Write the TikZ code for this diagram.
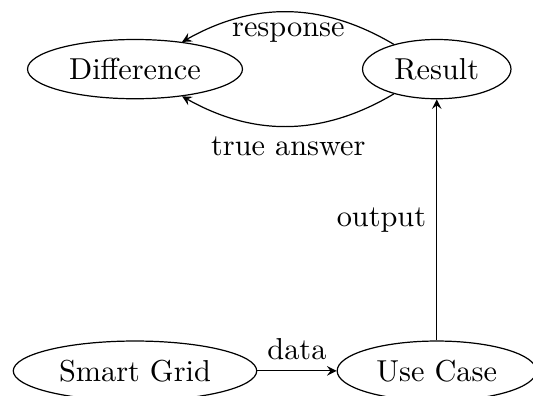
\documentclass[tikz,border=0pt]{standalone}
\usetikzlibrary{shapes.geometric}
\begin{document}
\begin{tikzpicture}[
  box/.style={draw, ellipse},
  conn/.style={-stealth}
]
\useasboundingbox (-44.55pt,-8.25pt) rectangle (131.35pt,122.4pt);
\node[box] (sg) at (0,0) {Smart Grid};
\node[box] (uc) at (3.5,0) {Use Case};
\node[box] (diff) at (0,3.5) {Difference};
\node[box] (res) at (3.5,3.5) {Result};
\draw[conn] (sg) -- node[above] {data} (uc);
\draw[conn] (uc) -- node[left] {output} (res);
\draw[conn] (res) to[bend right] node[below] {response} (diff);
\draw[conn] (res) to[bend left] node[below] {true answer} (diff);
\end{tikzpicture}
\end{document}
